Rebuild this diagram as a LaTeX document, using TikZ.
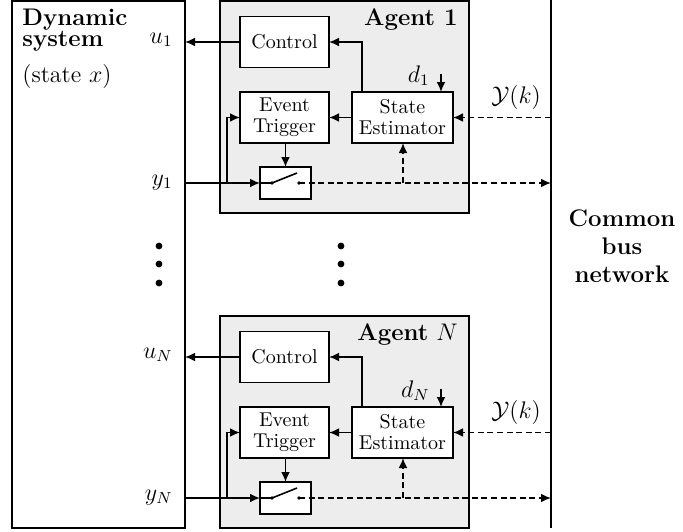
\documentclass[tikz,border=0pt]{standalone}
\usetikzlibrary{arrows.meta}
\begin{document}
\begin{tikzpicture}[x=0.5pt,y=-0.5pt,
  blk/.style={draw, fill=white, line width=0.65pt, minimum width=44.5pt, minimum height=25.5pt, inner sep=1pt, outer sep=0pt, align=center, font=\normalsize},
  agentbox/.style={draw, fill=black!7, line width=1pt, outer sep=0pt, inner sep=0pt, anchor=north west},
  arr/.style={line width=0.8pt, -{Latex[length=5pt,width=4.4pt]}},
  dsh/.style={arr, dash pattern=on 3pt off 1.8pt},
  lbl/.style={font=\large, inner sep=0pt},
  dotfill/.style={fill=black}
]
\useasboundingbox (0,0) rectangle (683,531);
% dynamic system
\node[draw, line width=1pt, minimum width=86.5pt, minimum height=263.5pt, anchor=north west, outer sep=0pt, inner sep=0pt] (sys) at (12,1) {};
\node[font=\large\bfseries, align=left, anchor=base west, inner sep=0pt] (systitle) at (22,46) {Dynamic\\[-3.7pt]system};
\node[lbl, anchor=base west] (state) at (22,82) {(state $x$)};
% bus
\draw[line width=1pt] (551,0) coordinate (bustop) -- (551,528) coordinate (busbot);
\node[font=\large\bfseries, align=center] (bus) at (622,246) {Common\\bus\\network};
% dots
\foreach \yy in {246,264,283} {
  \fill[dotfill] (159,\yy) circle (1.7pt);
  \fill[dotfill] (341,\yy) circle (1.7pt);
}
% agents
\foreach \k/\lab/\s in {1/{\textbf{Agent 1}}/0, N/{\textbf{Agent} $N$}/315} {
\begin{scope}[shift={(0,\s)}]
  \node[agentbox, minimum width=124.5pt, minimum height=106pt] (ag\k) at (220,1) {};
  \node[font=\large, anchor=base east, inner sep=0pt] (agl\k) at (458,25) {\lab};
  \node[blk] (ctrl\k) at (284.5,42) {Control};
  \node[blk] (et\k) at (284.5,117.5) {Event\\[-1.5pt]Trigger};
  \node[blk, minimum width=50.5pt] (se\k) at (402.5,117.5) {State\\[-1.5pt]Estimator};
  \node[draw, fill=white, line width=0.65pt, minimum width=25.5pt, minimum height=16pt, inner sep=0pt, outer sep=0pt] (sw\k) at (285.5,183) {};
  \coordinate (swl\k) at (272,183);
  \coordinate (swr\k) at (299,183);
  \coordinate (swb\k) at (297,173);
  \draw[line width=0.8pt] (sw\k.west) -- (swl\k) -- (swb\k);
  \fill (swl\k) circle (0.9pt);
  \fill (swr\k) circle (0.9pt);
  \node[lbl, anchor=base east] (u\k) at (173,43) {$u_{\k}$};
  \node[lbl, anchor=base east] (y\k) at (173,185) {$y_{\k}$};
  \node[lbl, anchor=base east] (d\k) at (430,82) {$d_{\k}$};
  \node[lbl, anchor=base] (yk\k) at (516,103) {$\mathcal{Y}(k)$};
  \coordinate (dtop\k) at (441,74);
  \coordinate (br\k) at (227,183);
  \coordinate (sb\k) at (403,183);
  % connectors
  \draw[arr] (ctrl\k.west) -- (sys.east |- ctrl\k.west);
  \draw[arr] ([xshift=5pt]se\k.north west) |- (ctrl\k.east);
  \draw[arr] (dtop\k) -- (dtop\k |- se\k.north);
  \draw[arr] (se\k.west) -- (et\k.east);
  \draw[dsh] (bustop |- se\k.east) -- (se\k.east);
  \draw[arr] (sys.east |- sw\k.west) -- (sw\k.west);
  \draw[arr] (br\k) |- (et\k.west);
  \draw[arr] (sw\k.north |- et\k.south) -- (sw\k.north);
  \draw[dsh] (swr\k) -- (bustop |- swr\k);
  \draw[dsh] (sb\k) -- (sb\k |- se\k.south);
\end{scope}
}
\end{tikzpicture}
\end{document}
